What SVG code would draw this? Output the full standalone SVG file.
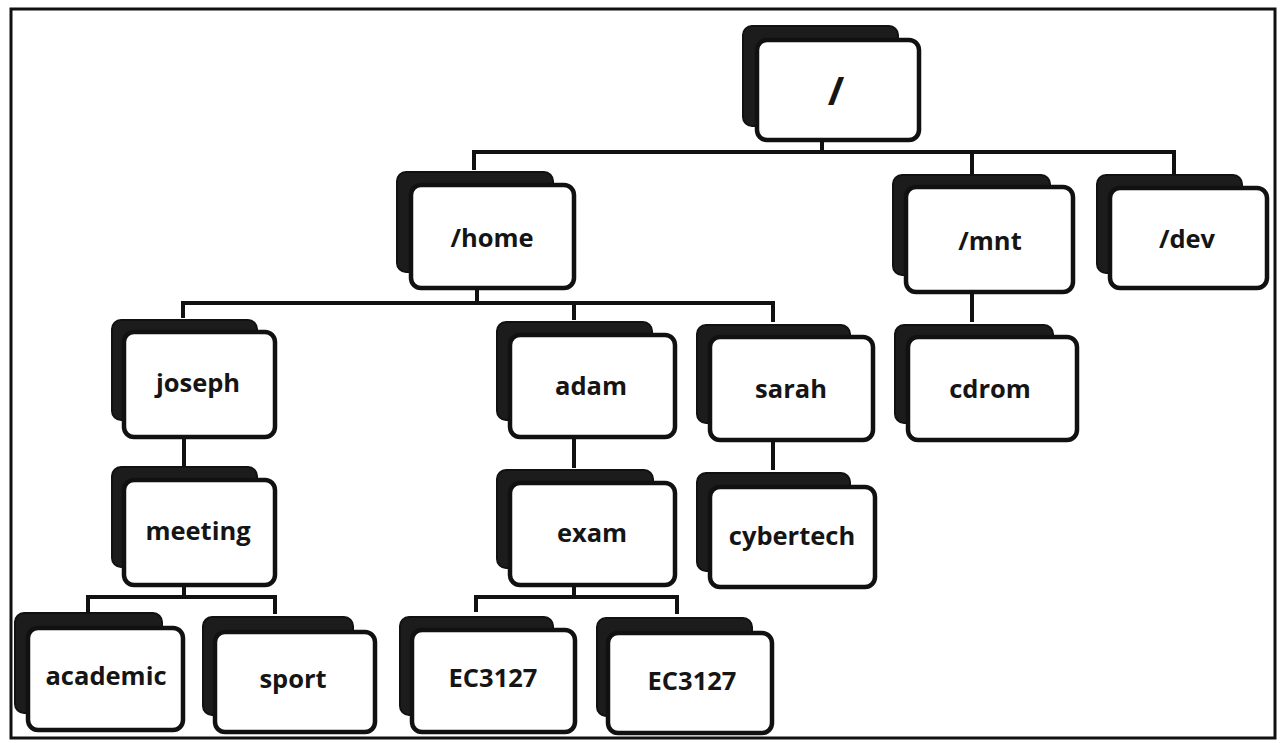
<svg xmlns="http://www.w3.org/2000/svg" width="1282" height="743" viewBox="0 0 1282 743">
<defs>
<style>
.back{fill:#1c1c1c;stroke:#111;stroke-width:2}
.front{fill:#fff;stroke:#111;stroke-width:4.5}
.lbl{font-family:"Open Sans","Liberation Sans",sans-serif;font-weight:700;font-size:25.5px;fill:#151515;text-anchor:middle}
.big{font-size:40px}
.ln{fill:none;stroke:#111;stroke-width:4;stroke-linejoin:miter;stroke-linecap:square}
</style>
</defs>
<rect x="0" y="0" width="1282" height="743" fill="#fff"/>
<rect x="11" y="9" width="1264" height="729" fill="none" stroke="#111" stroke-width="3"/>
<g id="connectors">
<path class="ln" d="M822 140 V152 M474 168 V152 H1174 V172 M972 152 V174"/>
<path class="ln" d="M477 288 V303 M183 316 V303 H773 V320 M574 303 V318"/>
<path class="ln" d="M972 292 V320"/>
<path class="ln" d="M184 437 V464"/>
<path class="ln" d="M574 437 V466"/>
<path class="ln" d="M773 440 V468"/>
<path class="ln" d="M184 585 V597 M88 610 V597 H275 V612"/>
<path class="ln" d="M574 585 V597 M476 610 V597 H677 V612"/>
</g>
<g id="root">
<rect class="back" x="743" y="26" width="155" height="100" rx="9"/>
<rect class="front" x="757" y="40" width="162" height="100" rx="10"/>
<text class="lbl big" x="836" y="105">/</text>
</g>
<g id="home">
<rect class="back" x="397" y="172" width="156" height="100" rx="9"/>
<rect class="front" x="411" y="185" width="163" height="103" rx="10"/>
<text class="lbl" x="492" y="247">/home</text>
</g>
<g id="mnt">
<rect class="back" x="893" y="175" width="157" height="100" rx="9"/>
<rect class="front" x="906" y="187" width="167" height="105" rx="10"/>
<text class="lbl" x="990" y="250">/mnt</text>
</g>
<g id="dev">
<rect class="back" x="1097" y="175" width="145" height="98" rx="9"/>
<rect class="front" x="1110" y="188" width="157" height="100" rx="10"/>
<text class="lbl" x="1187" y="248">/dev</text>
</g>
<g id="joseph">
<rect class="back" x="112" y="320" width="145" height="100" rx="9"/>
<rect class="front" x="124" y="332" width="151" height="105" rx="10"/>
<text class="lbl" x="198" y="392">joseph</text>
</g>
<g id="adam">
<rect class="back" x="497" y="322" width="155" height="98" rx="9"/>
<rect class="front" x="510" y="335" width="165" height="102" rx="10"/>
<text class="lbl" x="591" y="395">adam</text>
</g>
<g id="sarah">
<rect class="back" x="697" y="325" width="153" height="98" rx="9"/>
<rect class="front" x="710" y="337" width="163" height="103" rx="10"/>
<text class="lbl" x="791" y="398">sarah</text>
</g>
<g id="cdrom">
<rect class="back" x="895" y="325" width="158" height="98" rx="9"/>
<rect class="front" x="908" y="337" width="169" height="103" rx="10"/>
<text class="lbl" x="990" y="398">cdrom</text>
</g>
<g id="meeting">
<rect class="back" x="112" y="467" width="145" height="100" rx="9"/>
<rect class="front" x="124" y="480" width="151" height="105" rx="10"/>
<text class="lbl" x="198" y="540">meeting</text>
</g>
<g id="exam">
<rect class="back" x="497" y="470" width="156" height="98" rx="9"/>
<rect class="front" x="510" y="483" width="165" height="102" rx="10"/>
<text class="lbl" x="592" y="542">exam</text>
</g>
<g id="cybertech">
<rect class="back" x="697" y="473" width="153" height="98" rx="9"/>
<rect class="front" x="710" y="487" width="165" height="100" rx="10"/>
<text class="lbl" x="792" y="545">cybertech</text>
</g>
<g id="academic">
<rect class="back" x="15" y="613" width="147" height="100" rx="9"/>
<rect class="front" x="28" y="628" width="155" height="102" rx="10"/>
<text class="lbl" x="106" y="685">academic</text>
</g>
<g id="sport">
<rect class="back" x="203" y="617" width="150" height="98" rx="9"/>
<rect class="front" x="215" y="632" width="160" height="100" rx="10"/>
<text class="lbl" x="293" y="688">sport</text>
</g>
<g id="ec3127a">
<rect class="back" x="400" y="617" width="153" height="98" rx="9"/>
<rect class="front" x="412" y="630" width="163" height="102" rx="10"/>
<text class="lbl" x="493" y="687">EC3127</text>
</g>
<g id="ec3127b">
<rect class="back" x="597" y="618" width="155" height="98" rx="9"/>
<rect class="front" x="608" y="633" width="164" height="100" rx="10"/>
<text class="lbl" x="692" y="690">EC3127</text>
</g>
</svg>
